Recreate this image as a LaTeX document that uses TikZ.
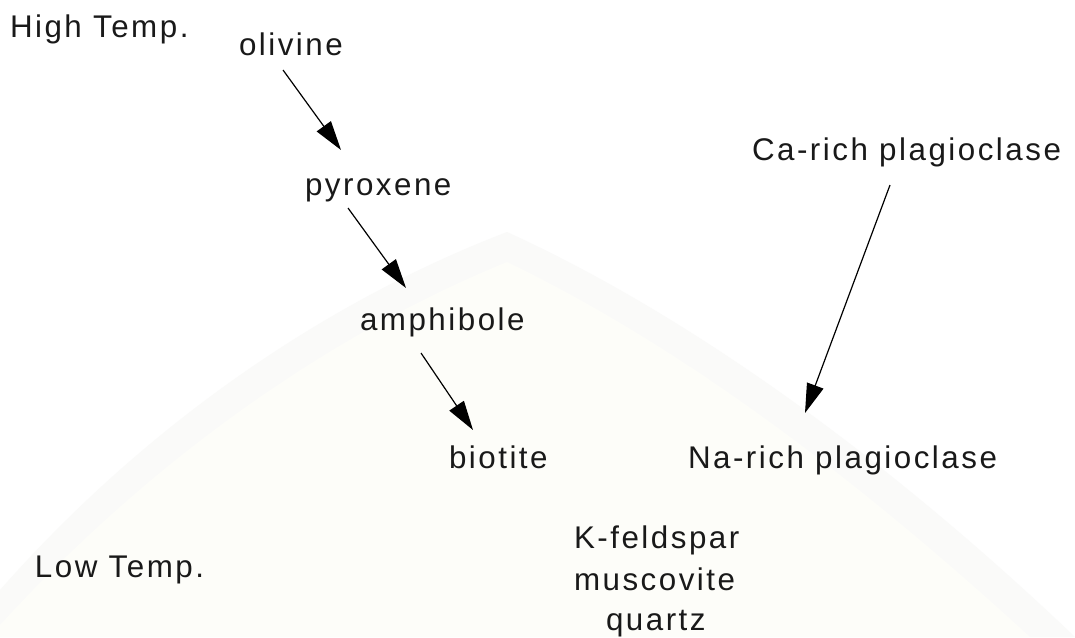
\documentclass[tikz,border=0pt]{standalone}
\usepackage{fontspec}
\setmainfont{Liberation Sans}[LetterSpace=8]
\usetikzlibrary{arrows.meta,calc}
\definecolor{wmband}{HTML}{FAFAF9}
\definecolor{wmfill}{HTML}{FDFDF9}
\tikzset{
  x=0.75pt,y=-0.75pt,
  lbl/.style={anchor=base west,inner sep=0pt,outer sep=0pt,font=\fontsize{23.5pt}{23.5pt}\selectfont,text=black!90},
  flow/.style={draw=black,line width=0.9pt,-{Triangle[length=22pt,width=13pt]}}
}
\begin{document}
\begin{tikzpicture}
\useasboundingbox (0,0) rectangle (1075,637);
\fill[white] (0,0) rectangle (1075,637);
% faint watermark
\fill[wmband] (0,590) .. controls (150,420) and (330,300) .. (507,232) .. controls (700,320) and (900,470) .. (1075,637) -- (0,637) -- cycle;
\fill[wmfill] (0,625) .. controls (160,450) and (340,330) .. (507,262) .. controls (690,350) and (870,490) .. (1030,637) -- (0,637) -- cycle;
\node[lbl] (high) at (10,37) {High Temp.};
\node[lbl] (olivine) at (239,55) {olivine};
\node[lbl] (pyroxene) at (305,195) {pyroxene};
\node[lbl] (amphibole) at (360,330) {amphibole};
\node[lbl] (biotite) at (449,468) {biotite};
\node[lbl] (carich) at (752,160) {Ca-rich plagioclase};
\node[lbl] (narich) at (688,468) {Na-rich plagioclase};
\node[lbl] (kfeld) at (574,548) {K-feldspar};
\node[lbl] (musc) at (574,590) {muscovite};
\node[lbl] (quartz) at (606,630) {quartz};
\node[lbl] (low) at (35,577) {Low Temp.};
\draw[flow] ($(olivine.base west)+(44,15)$) -- ($(pyroxene.base west)+(36,-45)$);
\draw[flow] ($(pyroxene.base west)+(43,13)$) -- ($(amphibole.base west)+(46,-42)$);
\draw[flow] ($(amphibole.base west)+(61,23)$) -- ($(biotite.base west)+(24,-38)$);
\draw[flow] ($(carich.base west)+(138,25)$) -- ($(narich.base west)+(117,-55)$);
\end{tikzpicture}
\end{document}
